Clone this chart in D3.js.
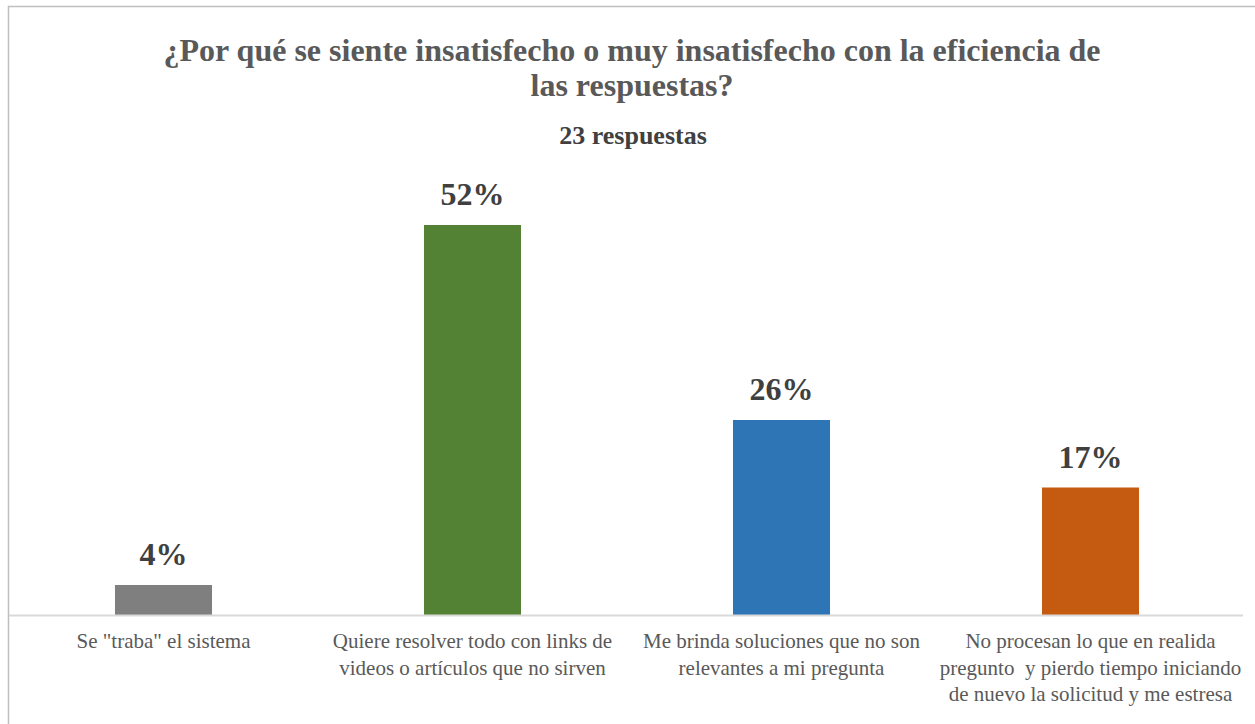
<!DOCTYPE html>
<html>
<head>
<meta charset="utf-8">
<script src="https://cdn.jsdelivr.net/npm/d3@7"></script>
<style>
  html, body { margin: 0; padding: 0; background: #fff; }
  svg { display: block; }
</style>
</head>
<body>
<svg id="chart" width="1255" height="724"></svg>
<script>
// Survey answers: reasons for dissatisfaction
const categories = [
  "Se \"traba\" el sistema",
  "Quiere resolver todo con links de\nvideos o artículos que no sirven",
  "Me brinda soluciones que no son\nrelevantes a mi pregunta",
  "No procesan lo que en realida\npregunto  y pierdo tiempo iniciando\nde nuevo la solicitud y me estresa"
];
const percentages = [4, 52, 26, 17];
const barColors = ["#7f7f7f", "#548235", "#2e75b6", "#c55a11"];
const titleLines = [
  "¿Por qué se siente insatisfecho o muy insatisfecho con la eficiencia de",
  "las respuestas?"
];
const subtitle = "23 respuestas";

const FONT = "'Liberation Serif', Tinos, 'Times New Roman', 'DejaVu Serif', serif";

const svg = d3.select("#chart")
  .attr("font-family", FONT)
  .style("font-family", FONT);

// Chart frame
svg.append("rect")
  .attr("x", 8.5).attr("y", 6.5)
  .attr("width", 1260).attr("height", 730)
  .attr("fill", "#fff")
  .attr("stroke", "#bfbfbf")
  .attr("stroke-width", 1.5);

// Title
svg.append("text")
  .style("font-family", FONT)
  .style("white-space", "pre")
  .attr("text-anchor", "middle")
  .attr("font-weight", "bold")
  .attr("font-size", 32)
  .attr("fill", "#595959")
  .selectAll("tspan")
  .data(titleLines)
  .join("tspan")
  .attr("x", 632)
  .attr("y", (d, i) => 61 + i * 35)
  .text(d => d);

svg.append("text")
  .style("font-family", FONT)
  .attr("x", 633).attr("y", 144)
  .attr("text-anchor", "middle")
  .attr("font-weight", "bold")
  .attr("font-size", 26)
  .attr("fill", "#404040")
  .text(subtitle);

// Scales
const x = d3.scaleBand()
  .domain(categories)
  .range([9, 1245])
  .paddingInner(0.686)
  .paddingOuter(0.343);

const y = d3.scaleLinear()
  .domain([0, 60])
  .range([615, 165]);

// Bars
svg.append("g")
  .selectAll("rect")
  .data(categories)
  .join("rect")
  .attr("x", d => x(d))
  .attr("width", x.bandwidth())
  .attr("y", (d, i) => y(percentages[i]))
  .attr("height", (d, i) => y(0) - y(percentages[i]))
  .attr("fill", (d, i) => barColors[i]);

// Value labels
svg.append("g")
  .selectAll("text")
  .data(categories)
  .join("text")
  .style("font-family", FONT)
  .attr("x", d => x(d) + x.bandwidth() / 2)
  .attr("y", (d, i) => y(percentages[i]) - 20)
  .attr("text-anchor", "middle")
  .attr("font-weight", "bold")
  .attr("font-size", 32)
  .attr("fill", "#404040")
  .text((d, i) => percentages[i] + "%");

// Category axis
const axis = svg.append("g")
  .attr("transform", `translate(0,${y(0)})`)
  .call(d3.axisBottom(x).tickSize(0).tickFormat(""));
axis.select(".domain")
  .attr("d", "M9,0.5H1243")
  .attr("stroke", "#d9d9d9")
  .attr("stroke-width", 2);

// Multi-line category labels
const labels = svg.append("g")
  .selectAll("text")
  .data(categories)
  .join("text")
  .style("font-family", FONT)
  .style("white-space", "pre")
  .attr("text-anchor", "middle")
  .attr("font-size", 21)
  .attr("fill", "#595959");
labels.selectAll("tspan")
  .data(d => d.split("\n").map(line => ({ line, cx: x(d) + x.bandwidth() / 2 })))
  .join("tspan")
  .attr("x", d => d.cx)
  .attr("y", (d, i) => 648 + i * 26.5)
  .text(d => d.line);
</script>
</body>
</html>
